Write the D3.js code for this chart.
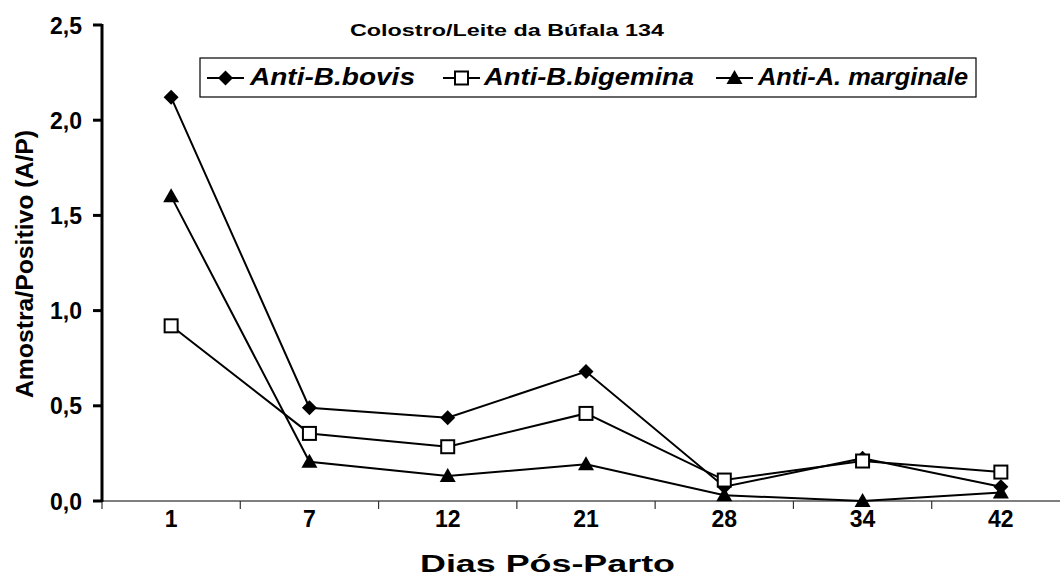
<!DOCTYPE html>
<html><head><meta charset="utf-8">
<script src="https://cdn.jsdelivr.net/npm/d3@7/dist/d3.min.js"></script>
<style>body{margin:0;background:#fff}svg{display:block;font-family:"Liberation Sans",Arial,sans-serif}</style>
</head><body>
<svg id="c" width="1060" height="577"></svg>
<script>
const categories = ["1","7","12","21","28","34","42"];
const bovis = [2.12, 0.49, 0.437, 0.68, 0.075, 0.225, 0.075];
const bigemina = [0.92, 0.355, 0.285, 0.46, 0.11, 0.21, 0.152];
const marginale = [1.6, 0.206, 0.131, 0.193, 0.03, 0.0, 0.045];
const seriesNames = ["Anti-B.bovis","Anti-B.bigemina","Anti-A. marginale"];
const yTicks = [0, 0.5, 1.0, 1.5, 2.0, 2.5];
const title = "Colostro/Leite da Búfala 134";
const xTitle = "Dias Pós-Parto";
const yTitle = "Amostra/Positivo (A/P)";

const svg = d3.select("#c");
const x = d3.scaleBand().domain(categories).range([102, 1070]).padding(0);
const y = d3.scaleLinear().domain([0, 2.5]).range([501, 25]);

// x axis
const xg = svg.append("g").attr("transform","translate(0,501)");
xg.append("line").attr("x1",102).attr("x2",1070).attr("stroke","#555").attr("stroke-width",1.5);
const bounds = categories.map(c => x(c)).concat([x.range()[1]]);
xg.selectAll("line.t").data(bounds).join("line").attr("class","t")
  .attr("x1",d=>d).attr("x2",d=>d).attr("y1",0).attr("y2",8).attr("stroke","#333").attr("stroke-width",1.2);
xg.selectAll("text").data(categories).join("text")
  .attr("x",d=>x(d)+x.bandwidth()/2).attr("y",26).attr("text-anchor","middle")
  .attr("font-size",23).attr("font-weight","bold").text(d=>d);

// y axis
const yg = svg.append("g");
yg.append("line").attr("x1",102).attr("x2",102).attr("y1",y(2.5)-1).attr("y2",y(0)+1).attr("stroke","#000").attr("stroke-width",3);
yg.selectAll("line.t").data(yTicks).join("line").attr("class","t")
  .attr("x1",93).attr("x2",102).attr("y1",d=>y(d)).attr("y2",d=>y(d)).attr("stroke","#000").attr("stroke-width",3);
yg.selectAll("text").data(yTicks).join("text")
  .attr("x",82).attr("y",d=>y(d)+8.5).attr("text-anchor","end")
  .attr("font-size",23).attr("font-weight","bold").text(d=>d.toFixed(1).replace(".",","));

// titles
svg.append("text").attr("x",350).attr("y",36).attr("font-size",17).attr("font-weight","bold")
  .attr("textLength",314).attr("lengthAdjust","spacingAndGlyphs").text(title);
svg.append("text").attr("x",420).attr("y",572).attr("font-size",23).attr("font-weight","bold")
  .attr("textLength",255).attr("lengthAdjust","spacingAndGlyphs").text(xTitle);
svg.append("text").attr("transform","translate(33,398) rotate(-90)").attr("font-size",23).attr("font-weight","bold")
  .attr("textLength",268).attr("lengthAdjust","spacingAndGlyphs").text(yTitle);

// markers
function marker(g, type, cx, cy){
  if(type==="diamond"){
    g.append("path").attr("d",`M${cx},${cy-7.5}L${cx+7.5},${cy}L${cx},${cy+7.5}L${cx-7.5},${cy}Z`).attr("fill","#000");
  } else if(type==="square"){
    g.append("rect").attr("x",cx-6.5).attr("y",cy-6.5).attr("width",13).attr("height",13).attr("fill","#fff").attr("stroke","#000").attr("stroke-width",2);
  } else {
    g.append("path").attr("d",`M${cx},${cy-8}L${cx+8},${cy+6}L${cx-8},${cy+6}Z`).attr("fill","#000");
  }
}
const series = [[bovis,"diamond"],[bigemina,"square"],[marginale,"triangle"]];
const line = d3.line().x((d,i)=>x(categories[i])+x.bandwidth()/2).y(d=>y(d));
series.forEach(([vals,type])=>{
  const g = svg.append("g");
  g.append("path").attr("d",line(vals)).attr("fill","none").attr("stroke","#000").attr("stroke-width",2);
  vals.forEach((v,i)=>marker(g,type,x(categories[i])+x.bandwidth()/2,y(v)));
});

// legend
const lg = svg.append("g");
lg.append("rect").attr("x",200).attr("y",58).attr("width",776).attr("height",39).attr("fill","#fff").attr("stroke","#000").attr("stroke-width",1.2);
const legX = [207, 443, 716];
const legTextX = [250, 484, 758];
const legTextW = [165, 210, 210];
series.forEach(([vals,type],i)=>{
  const lx = legX[i];
  lg.append("line").attr("x1",lx).attr("x2",lx+37).attr("y1",78).attr("y2",78).attr("stroke","#000").attr("stroke-width",2);
  marker(lg,type,lx+18.5,78);
  lg.append("text").attr("x",legTextX[i]).attr("y",85).attr("font-size",23).attr("font-weight","bold").attr("font-style","italic")
    .attr("textLength",legTextW[i]).attr("lengthAdjust","spacingAndGlyphs").text(seriesNames[i]);
});
</script>
</body></html>
